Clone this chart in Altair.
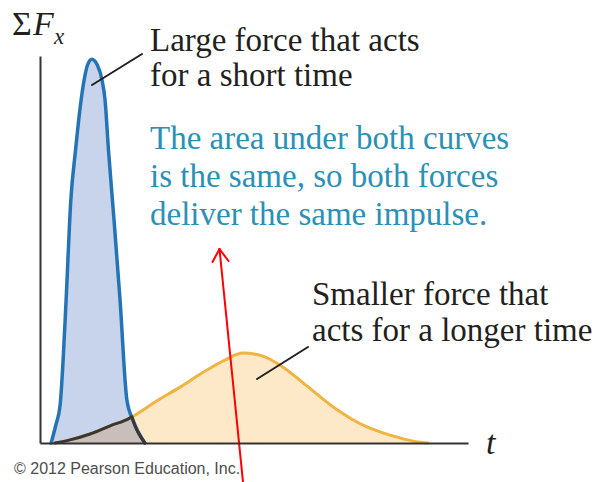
import altair as alt
import numpy as np
import pandas as pd

# Large force acting for a short time: time (ms) and net force
blue_t = [0.26, 0.37, 0.47, 0.54, 0.61, 0.72, 0.83, 0.96, 1.03, 1.11, 1.21,
          1.34, 1.45, 1.52, 1.60, 1.73, 1.87, 2.03, 2.17, 2.45]
blue_f = [0.00, 0.46, 0.97, 2.12, 3.66, 6.21, 7.49, 8.77, 9.28, 9.67, 9.82,
          9.67, 9.28, 8.77, 7.49, 5.70, 3.66, 1.10, 0.59, 0.00]

# Smaller force acting for a longer time
orange_t = [0.35, 0.70, 1.17, 1.64, 2.10, 2.69, 3.27, 3.86, 4.32, 4.74, 5.19,
            5.68, 6.07, 6.47, 6.85, 7.24, 7.64, 8.01, 8.41, 8.76, 9.07]
orange_f = [0.00, 0.08, 0.23, 0.44, 0.64, 1.05, 1.43, 1.84, 2.12, 2.30, 2.23,
            1.94, 1.61, 1.25, 0.92, 0.64, 0.41, 0.26, 0.13, 0.04, 0.00]

label_short = ["Large force that acts", "for a short time"]
label_long = ["Smaller force that", "acts for a longer time"]
label_area = ["The area under both curves", "is the same, so both forces",
              "deliver the same impulse."]
credit = "\u00a9 2012 Pearson Education, Inc."

BLUE_LINE, BLUE_FILL = "#2474b5", "#c7d4ec"
ORANGE_LINE, ORANGE_FILL = "#efb441", "#fde8c8"
BOTH_FILL, BOTH_LINE = "#c8bfba", "#3b3536"
INK = "#231f20"
TEAL = "#2b90b6"
SERIF = "Liberation Serif"

blue = pd.DataFrame({"t": blue_t, "F": blue_f})
orange = pd.DataFrame({"t": orange_t, "F": orange_f})

# Region under both curves: orange boundary up to the crossing, blue after it
grid = np.linspace(orange_t[0], blue_t[-1], 2000)
diff = np.interp(grid, blue_t, blue_f) - np.interp(grid, orange_t, orange_f)
k = np.where((diff[:-1] > 0) & (diff[1:] <= 0))[0][-1]
t_cross = grid[k]
f_cross = float(np.interp(t_cross, orange_t, orange_f))
both_t = [t for t in orange_t if t < t_cross] + [t_cross] + [t for t in blue_t if t > t_cross]
both_f = ([f for t, f in zip(orange_t, orange_f) if t < t_cross] + [f_cross]
          + [f for t, f in zip(blue_t, blue_f) if t > t_cross])
both = pd.DataFrame({"t": both_t, "F": both_f})

x_scale = alt.Scale(domain=[0, 10], nice=False, zero=False)
y_scale = alt.Scale(domain=[0, 9.9], nice=False)
axis_style = dict(labels=False, ticks=False, grid=False, title=None,
                  domainColor="#333333", domainWidth=2, zindex=1)
X = alt.X("t:Q", scale=x_scale, axis=alt.Axis(**axis_style))
Y = alt.Y("F:Q", scale=y_scale, axis=alt.Axis(**axis_style))


def area(df, color):
    return alt.Chart(df).mark_area(color=color, interpolate="monotone").encode(x=X, y=Y)


def curve(df, color, width):
    return alt.Chart(df).mark_line(color=color, strokeWidth=width, interpolate="monotone",
                                   strokeCap="round").encode(x=X, y=Y)


one = pd.DataFrame({"k": [0]})


def text(lines, x, y, size=33, color=INK, font=SERIF, style="normal", lh=34):
    return alt.Chart(one).mark_text(
        text=lines, align="left", baseline="alphabetic", font=font, fontSize=size,
        fontStyle=style, color=color, lineHeight=lh
    ).encode(x=alt.value(x), y=alt.value(y))


def segment(x1, y1, x2, y2, color=INK, width=2):
    return alt.Chart(one).mark_rule(color=color, strokeWidth=width, strokeCap="round").encode(
        x=alt.value(x1), y=alt.value(y1), x2=alt.value(x2), y2=alt.value(y2))


chart = alt.layer(
    area(orange, ORANGE_FILL),
    area(blue, BLUE_FILL),
    area(both, BOTH_FILL),
    curve(orange, ORANGE_LINE, 3),
    curve(blue, BLUE_LINE, 3.5),
    curve(both, BOTH_LINE, 3),
    # axis titles
    text("\u03a3", -28, -21, size=34),
    text("F", -7, -21, size=34, style="italic"),
    text("x", 14, -12, size=23, style="italic"),
    text("t", 446, 398, size=34, style="italic"),
    # callouts
    segment(52, 29, 102, -2),
    text(label_short, 110, -5, lh=35),
    segment(217, 323, 268, 291),
    text(label_long, 272, 249, lh=36),
    text(label_area, 110, 93, color=TEAL, lh=38),
    text(credit, -26, 418, size=16, color="#4d4d4d", font="Liberation Sans"),
    # red arrow
    segment(203, 426, 179.5, 193, color="#ff0000", width=2),
    segment(179.5, 193, 172.5, 206, color="#ff0000", width=2),
    segment(179.5, 193, 188.5, 205, color="#ff0000", width=2),
).properties(
    width=428, height=387,
    autosize=alt.AutoSizeParams(type="none"),
    padding={"left": 40, "top": 56, "right": 131, "bottom": 39},
).configure_view(stroke=None)

chart.save("out.html", embed_options={"renderer": "svg", "actions": False})
